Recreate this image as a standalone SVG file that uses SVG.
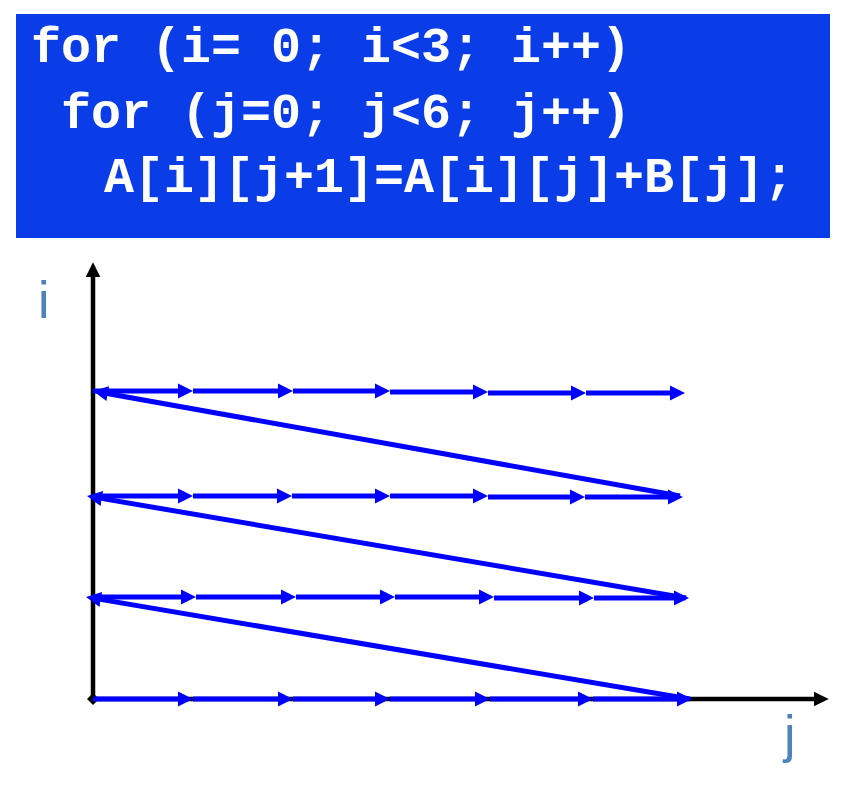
<svg xmlns="http://www.w3.org/2000/svg" width="841" height="800" viewBox="0 0 841 800">
  <style>
    .code { font-family: "Liberation Mono", "Courier New", monospace; font-weight: bold; font-size: 50px; fill: #FFFFFF; white-space: pre; }
    .lbl { font-family: "Liberation Sans", Arial, sans-serif; font-size: 52px; fill: #4F81BD; }
    .ax { stroke: #000000; stroke-width: 4.5; fill: none; }
    .arr { stroke: #0000FF; stroke-width: 5; fill: none; marker-end: url(#bh); }
  </style>
  <defs>
    <marker id="bh" markerUnits="userSpaceOnUse" markerWidth="17" markerHeight="17" viewBox="0 -8.5 17 17" refX="6.5" refY="0" orient="auto">
      <path d="M0,-7.5 L15,0 L0,7.5 z" fill="#0000FF"/>
    </marker>
    <marker id="kh" markerUnits="userSpaceOnUse" markerWidth="17" markerHeight="17" viewBox="0 -8 17 16" refX="6" refY="0" orient="auto">
      <path d="M0,-7.3 L14.7,0 L0,7.3 z" fill="#000000"/>
    </marker>
    <marker id="kd" markerUnits="userSpaceOnUse" markerWidth="14" markerHeight="14" viewBox="-7 -7 14 14" refX="0" refY="0" orient="auto">
      <path d="M-6,0 L0,-6 L6,0 L0,6 z" fill="#000000"/>
    </marker>
  </defs>

  <g id="code-box">
    <rect x="16" y="14" width="814" height="224" fill="#0A3DE8"/>
    <text class="code" x="31" y="62">for (i= 0; i&lt;3; i++)</text>
    <text class="code" x="61" y="128">for (j=0; j&lt;6; j++)</text>
    <text class="code" x="104" y="192">A[i][j+1]=A[i][j]+B[j];</text>
  </g>

  <g id="axis-i">
    <line class="ax" x1="93" y1="701" x2="93" y2="271" marker-end="url(#kh)"/>
    <text class="lbl" x="38" y="318">i</text>
  </g>
  <g id="axis-j">
    <line class="ax" x1="93" y1="699" x2="820" y2="699" marker-start="url(#kd)" marker-end="url(#kh)"/>
    <text class="lbl" x="784" y="752">j</text>
  </g>

  <g id="connectors">
    <!-- row y=699 -->
    <line class="arr" x1="93" y1="699" x2="184.5" y2="699"/>
    <line class="arr" x1="193" y1="699" x2="284.5" y2="699"/>
    <line class="arr" x1="293" y1="699" x2="381.5" y2="699"/>
    <line class="arr" x1="390" y1="699" x2="481.5" y2="699"/>
    <line class="arr" x1="490" y1="699" x2="584.5" y2="699"/>
    <line class="arr" x1="593" y1="699" x2="683.5" y2="699"/>
    <!-- row y=597 -->
    <line class="arr" x1="93" y1="597" x2="187.5" y2="597"/>
    <line class="arr" x1="196" y1="597" x2="287.5" y2="597"/>
    <line class="arr" x1="296" y1="597" x2="386.5" y2="597"/>
    <line class="arr" x1="395" y1="597" x2="485.5" y2="597"/>
    <line class="arr" x1="494" y1="598" x2="585.5" y2="598"/>
    <line class="arr" x1="594" y1="598" x2="680.5" y2="598"/>
    <!-- row y=496 -->
    <line class="arr" x1="93" y1="496" x2="184.5" y2="496"/>
    <line class="arr" x1="193" y1="496" x2="283.5" y2="496"/>
    <line class="arr" x1="292" y1="496" x2="381.5" y2="496"/>
    <line class="arr" x1="390" y1="496" x2="479.5" y2="496"/>
    <line class="arr" x1="488" y1="497" x2="576.5" y2="497"/>
    <line class="arr" x1="585" y1="497" x2="674.5" y2="497"/>
    <!-- row y=392 -->
    <line class="arr" x1="93" y1="391" x2="184.5" y2="391"/>
    <line class="arr" x1="193" y1="391" x2="284.5" y2="391"/>
    <line class="arr" x1="293" y1="391" x2="381.5" y2="391"/>
    <line class="arr" x1="390" y1="392" x2="479.5" y2="392"/>
    <line class="arr" x1="488" y1="393" x2="577.5" y2="393"/>
    <line class="arr" x1="586" y1="393" x2="676.5" y2="393"/>
    <!-- diagonals -->
    <line class="arr" x1="690" y1="699" x2="94.4" y2="598.4"/>
    <line class="arr" x1="686" y1="598" x2="95.4" y2="497.4"/>
    <line class="arr" x1="680" y1="496" x2="101.4" y2="392.5"/>
  </g>
</svg>
